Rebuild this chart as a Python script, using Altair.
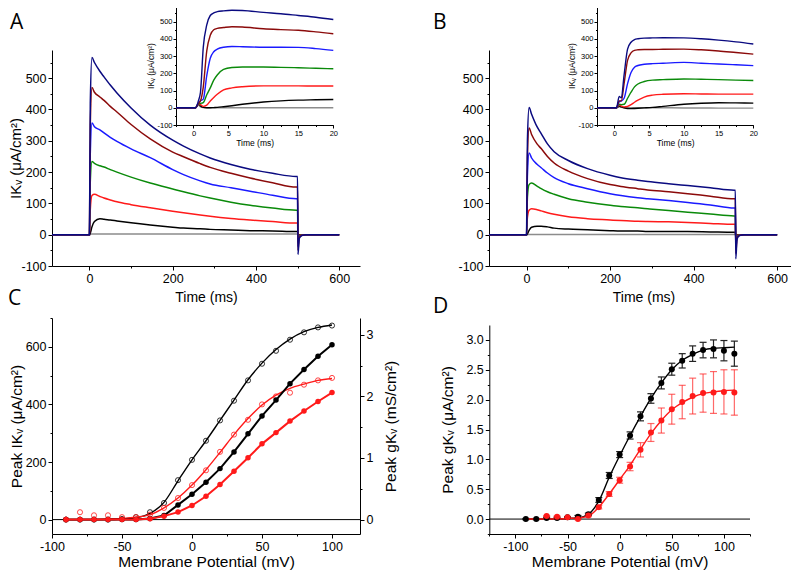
import altair as alt
import pandas as pd

W, H = 783, 562
FONT = "Liberation Sans"
LETTER_FONT = "Open Sans"

# ---------------- trace colours (bottom to top) ----------------
SERIES = ["s0_gray", "s1_black", "s2_red", "s3_green", "s4_blue", "s5_darkred", "s6_navy"]
SERIES_COLORS = ["#8c8c8c", "#000000", "#ff1a1a", "#0a8a0a", "#1a1aff", "#8b0a0a", "#0a0a80"]

# ---------------- Panel A / B main traces (time in ms, current in uA/cm2) ----------------
T_MAIN = [-90, 0, 2, 6, 12, 25, 35, 50, 66, 100, 146, 200, 226, 266, 290, 340, 386, 440, 497, 500, 501, 504, 510, 520, 600]

A_NAVY = [0, 0, 420, 566, 550, 522, 504, 478, 453, 405, 350, 302, 283, 258, 245, 224, 209, 196, 186, 186, -63, -12, -3, 0, 0]
A_DRED = [0, 0, 350, 470, 455, 440, 429, 410, 392, 352, 306, 264, 249, 227, 215, 196, 181, 166, 152, 152, -50, -9, -2, 0, 0]
A_BLUE = [0, 0, 260, 357, 345, 335, 325, 311, 298, 274, 246, 208, 192, 172, 162, 150, 139, 126, 115, 115, -38, -7, -2, 0, 0]
A_GREEN = [0, 0, 170, 234, 228, 220, 216, 208, 200, 184, 165, 146, 137, 124, 117, 104, 94, 85, 78, 78, -25, -5, -1, 0, 0]
A_RED = [0, 0, 80, 125, 129, 122, 117, 111, 105, 96, 86, 75, 70, 63, 59, 52, 47, 42, 37, 37, -13, -3, -1, 0, 0]
A_BLACK = [0, 0, 5, 25, 42, 51, 49, 47, 44, 38, 31, 24, 21, 19, 17, 15, 13, 12, 10, 10, -5, -1, 0, 0, 0]
A_GRAY = [0, 0, 2, 2, 2, 2, 2, 2, 2, 2, 2, 2, 2, 2, 2, 2, 2, 2, 2, 2, 0, 0, 0, 0, 0]

B_NAVY = [0, 0, 300, 406, 385, 345, 323, 290, 265, 237, 211, 190, 182, 174, 170, 163, 157, 150, 142, 142, -77, -14, -3, 0, 0]
B_DRED = [0, 0, 250, 341, 320, 290, 275, 250, 229, 203, 179, 160, 154, 147, 143, 137, 131, 123, 115, 115, -60, -10, -2, 0, 0]
B_BLUE = [0, 0, 190, 261, 245, 225, 214, 197, 182, 163, 147, 131, 125, 118, 115, 109, 103, 95, 85, 85, -45, -8, -2, 0, 0]
B_GREEN = [0, 0, 120, 160, 165, 155, 147, 137, 129, 115, 104, 94, 90, 86, 83, 77, 72, 66, 60, 60, -30, -5, -1, 0, 0]
B_RED = [0, 0, 55, 78, 83, 80, 76, 70, 65, 57, 51, 47, 45, 43, 42, 41, 39, 36, 33, 33, -15, -3, -1, 0, 0]
B_BLACK = [0, 0, 3, 14, 24, 27, 27, 25, 21, 18, 16, 13, 12, 12, 10, 10, 10, 9, 8, 8, -5, -1, 0, 0, 0]
B_GRAY = [0, 0, 1, 1, 1, 1, 1, 1, 1, 1, 1, 1, 1, 1, 1, 1, 1, 1, 1, 1, 0, 0, 0, 0, 0]

# ---------------- insets (first 20 ms) ----------------
T_INS = [-2.5, 0.3, 0.7, 1.0, 1.4, 1.9, 2.4, 2.9, 3.4, 4.3, 5.5, 7, 10, 12.5, 15, 17.5, 20]

IA_NAVY = [0, 0, 40, 90, 350, 480, 535, 550, 557, 562, 565, 564, 553, 545, 535, 525, 512]
IA_DRED = [0, 0, 25, 40, 120, 330, 420, 452, 460, 465, 470, 468, 458, 453, 449, 440, 429]
IA_BLUE = [0, 0, 25, 40, 50, 186, 287, 325, 340, 351, 355, 354, 351, 351, 350, 343, 333]
IA_GREEN = [0, 0, 20, 25, 30, 75, 115, 160, 190, 222, 233, 236, 236, 234, 232, 229, 226]
IA_RED = [0, 0, 20, 18, 8, 15, 39, 60, 78, 103, 115, 122, 127, 127, 127, 126, 126]
IA_BLACK = [0, 0, 25, 10, 2, 0, 0, 1, 2, 6, 12, 20, 33, 40, 44, 46, 48]
IA_GRAY = [0, 0, 15, 5, 1, 0, 0, 0, 0, 0, 0, 0, 0, 0, 0, 0, 0]

IB_NAVY = [0, 0, 66, 57, 190, 340, 380, 395, 400, 404, 405, 406, 405, 400, 392, 382, 370]
IB_DRED = [0, 0, 40, 40, 140, 275, 318, 333, 336, 338, 338, 339, 340, 336, 329, 320, 311]
IB_BLUE = [0, 0, 35, 40, 55, 140, 205, 235, 245, 252, 256, 258, 263, 258, 254, 249, 244]
IB_GREEN = [0, 0, 20, 18, 20, 55, 90, 121, 138, 152, 160, 163, 167, 165, 163, 160, 158]
IB_RED = [0, 0, 15, 10, 5, 8, 18, 32, 44, 62, 73, 78, 81, 80, 79, 79, 79]
IB_BLACK = [0, 0, 10, 5, 0, -4, -5, -4, -3, -1, 2, 8, 20, 26, 29, 28, 27]
IB_GRAY = [0, 0, 5, 2, 0, 0, 0, 0, 0, 0, 0, 0, -1, -1, -2, -2, -2]

# ---------------- Panel C ----------------
V_C = [-90, -80, -70, -60, -50, -40, -30, -20, -10, 0, 10, 20, 30, 40, 50, 60, 70, 80, 90, 100]
C_I_CTRL = [0, 0, 0, 0, 0, 0, 4, 14, 51, 88, 130, 177, 235, 298, 360, 415, 472, 521, 567, 607]
C_I_TRT = [0, 0, 0, 0, 0, 0, 3, 12, 26, 49, 81, 122, 168, 215, 263, 302, 342, 377, 410, 441]
C_G_CTRL = [0, 0, 0, 0, 0.01, 0.04, 0.12, 0.27, 0.64, 0.97, 1.28, 1.61, 1.93, 2.26, 2.53, 2.74, 2.92, 3.04, 3.12, 3.15]
C_G_TRT = [0, 0.12, 0.07, 0.07, 0.04, 0.04, 0.08, 0.19, 0.35, 0.56, 0.80, 1.10, 1.38, 1.62, 1.87, 2.00, 2.06, 2.19, 2.26, 2.30]
C_FIT_CTRL = [0, 0, 0, 0, 0.01, 0.03, 0.10, 0.28, 0.63, 0.97, 1.28, 1.61, 1.94, 2.27, 2.54, 2.76, 2.93, 3.05, 3.12, 3.16]
C_FIT_TRT = [0, 0, 0, 0.01, 0.02, 0.04, 0.08, 0.19, 0.35, 0.56, 0.81, 1.09, 1.38, 1.64, 1.86, 2.02, 2.13, 2.20, 2.26, 2.29]
C_ZERO = [-100, 120]

# ---------------- Panel D ----------------
V_D = [-90, -80, -70, -60, -50, -40, -30, -20, -10, 0, 10, 20, 30, 40, 50, 60, 70, 80, 90, 100, 110]
D_CTRL = [0, 0, 0.02, 0.02, 0.03, 0.04, 0.08, 0.32, 0.73, 1.08, 1.40, 1.72, 2.02, 2.28, 2.51, 2.65, 2.77, 2.83, 2.85, 2.82, 2.77]
D_CTRL_ERR = [0.01, 0.01, 0.01, 0.01, 0.01, 0.02, 0.02, 0.04, 0.05, 0.05, 0.06, 0.075, 0.08, 0.10, 0.10, 0.12, 0.13, 0.13, 0.15, 0.17, 0.21]
V_D_TRT = [-70, -60, -50, -40, -30, -20, -10, 0, 10, 20, 30, 40, 50, 60, 70, 80, 90, 100, 110]
D_TRT = [0.05, 0.04, 0.03, 0.0, 0.06, 0.20, 0.42, 0.65, 0.88, 1.16, 1.45, 1.65, 1.84, 1.96, 2.06, 2.11, 2.12, 2.13, 2.12]
D_TRT_ERR = [0.01, 0.01, 0.01, 0.01, 0.02, 0.03, 0.04, 0.05, 0.07, 0.12, 0.15, 0.21, 0.25, 0.28, 0.30, 0.32, 0.35, 0.37, 0.38]
D_FIT_CTRL = [0, 0, 0, 0, 0.01, 0.02, 0.08, 0.30, 0.70, 1.06, 1.40, 1.72, 2.02, 2.28, 2.50, 2.66, 2.76, 2.83, 2.86, 2.87, 2.88]
D_FIT_TRT = [0, 0, 0, 0, 0.01, 0.02, 0.05, 0.20, 0.42, 0.66, 0.90, 1.17, 1.43, 1.65, 1.83, 1.95, 2.04, 2.10, 2.13, 2.15, 2.16]
D_ZERO = [-125, 125]


def traces(t, arrays):
    rows = []
    for name, arr in zip(SERIES, arrays):
        for ti, vi in zip(t, arr):
            rows.append({"t": ti, "v": vi, "s": name})
    return pd.DataFrame(rows)


def sc(domain, rng):
    return alt.Scale(domain=domain, range=rng, nice=False, zero=False)


def ax(orient, offset, values, major, label, title, tsize, lsize,
       tick=4, minor=2, tpad=4, lpad=2, **extra):
    return alt.Axis(
        orient=orient, offset=offset, values=values, grid=False,
        domainColor="#000", domainWidth=1, tickColor="#000", tickWidth=1,
        tickSize={"condition": {"test": major, "value": tick}, "value": minor},
        labelExpr=f"({major}) ? {label} : ''",
        labelFont=FONT, labelFontSize=lsize, labelColor="#000",
        labelPadding=lpad, labelOverlap=False, labelFlush=False, labelBound=False,
        title=title, titleFont=FONT, titleFontSize=tsize, titleFontWeight="normal",
        titleColor="#000", titlePadding=tpad, **extra)


INT_LABEL = "'' + datum.value"
trace_color = alt.Color("s:N", scale=alt.Scale(domain=SERIES, range=SERIES_COLORS), legend=None)

# lower panels' x-axis line (chart pixels)
LOW_AX = 526

# scales (pixel ranges inside the single canvas)
xA = sc([-90, 650], [44, 352])
yMain = sc([-100, 590], [258, 42])
xB = sc([-90, 650], [481, 790])
xIA = sc([-2.5, 20], [168, 325.3])
xIB = sc([-2.5, 20], [589, 745.3])
yIns = sc([-100, 590], [117, -2])
xC = sc([-100, 120], [44, 352])
yC = sc([-50, 700], [LOW_AX, 310])
yC2 = sc([-0.2338, 3.2726], [LOW_AX, 310])
xD = sc([-125, 125], [481.3, 742])
yD = sc([-0.25, 3.25], [LOW_AX, 317])

MAIN_X_VALUES = list(range(0, 601, 100))
MAIN_Y_VALUES = list(range(-100, 551, 50))
INS_X_VALUES = [-2.5 + 2.5 * i for i in range(10)]
TITLE_I = "IKᵥ (μA/cm²)"

layers = []

# ---- Panel A main ----
layers.append(alt.Chart(traces(T_MAIN, [A_GRAY, A_BLACK, A_RED, A_GREEN, A_BLUE, A_DRED, A_NAVY]))
              .mark_line(strokeWidth=1.5, interpolate="monotone")
              .encode(x=alt.X("t:Q", scale=xA, axis=ax("bottom", 258 - H, MAIN_X_VALUES, "datum.value % 200 === 0", INT_LABEL, "Time (ms)", 14, 12.5, tpad=6)),
                      y=alt.Y("v:Q", scale=yMain, axis=ax("left", -44, MAIN_Y_VALUES, "datum.value % 100 === 0", INT_LABEL, TITLE_I, 15, 12.5,
                                                          titleX=-29, titleBaseline="bottom")),
                      color=trace_color))
# ---- Panel A inset ----
layers.append(alt.Chart(traces(T_INS, [IA_GRAY, IA_BLACK, IA_RED, IA_GREEN, IA_BLUE, IA_DRED, IA_NAVY]))
              .mark_line(strokeWidth=1.4, interpolate="monotone")
              .encode(x=alt.X("t:Q", scale=xIA, axis=ax("bottom", 117 - H, INS_X_VALUES, "datum.value % 5 === 0", INT_LABEL, "Time (ms)", 8.5, 7.5, tick=3, minor=1.5, tpad=2, lpad=1)),
                      y=alt.Y("v:Q", scale=yIns, axis=ax("left", -168, MAIN_Y_VALUES, "datum.value % 100 === 0", INT_LABEL, TITLE_I, 8.5, 7.5, tick=3, minor=1.5, tpad=1, lpad=1)),
                      color=trace_color))
# ---- Panel B main ----
layers.append(alt.Chart(traces(T_MAIN, [B_GRAY, B_BLACK, B_RED, B_GREEN, B_BLUE, B_DRED, B_NAVY]))
              .mark_line(strokeWidth=1.5, interpolate="monotone")
              .encode(x=alt.X("t:Q", scale=xB, axis=ax("bottom", 258 - H, MAIN_X_VALUES, "datum.value % 200 === 0", INT_LABEL, "Time (ms)", 14, 12.5, tpad=6)),
                      y=alt.Y("v:Q", scale=yMain, axis=ax("left", -481, MAIN_Y_VALUES, "datum.value % 100 === 0", INT_LABEL, "", 15, 12.5, tpad=1)),
                      color=trace_color))
# ---- Panel B inset ----
layers.append(alt.Chart(traces(T_INS, [IB_GRAY, IB_BLACK, IB_RED, IB_GREEN, IB_BLUE, IB_DRED, IB_NAVY]))
              .mark_line(strokeWidth=1.4, interpolate="monotone")
              .encode(x=alt.X("t:Q", scale=xIB, axis=ax("bottom", 117 - H, INS_X_VALUES, "datum.value % 5 === 0", INT_LABEL, "Time (ms)", 8.5, 7.5, tick=3, minor=1.5, tpad=2, lpad=1)),
                      y=alt.Y("v:Q", scale=yIns, axis=ax("left", -589, MAIN_Y_VALUES, "datum.value % 100 === 0", INT_LABEL, TITLE_I, 8.5, 7.5, tick=3, minor=1.5, tpad=1, lpad=1)),
                      color=trace_color))

# ---- Panel C ----
dfCz = pd.DataFrame({"a": [C_ZERO[0]], "b": [C_ZERO[1]], "y": [0]})
layers.append(alt.Chart(dfCz).mark_rule(color="#000", strokeWidth=1).encode(
    x=alt.X("a:Q", scale=xC, axis=None), x2="b:Q", y=alt.Y("y:Q", scale=yC, axis=None)))

dfC = pd.DataFrame({"V": V_C, "Ic": C_I_CTRL, "It": C_I_TRT, "Gc": C_G_CTRL, "Gt": C_G_TRT,
                    "Fc": C_FIT_CTRL, "Ft": C_FIT_TRT})
# conductance (open circles, right axis) with fits
for fit, pts, col, first in [("Fc", "Gc", "#000000", True), ("Ft", "Gt", "#ff1a1a", False)]:
    right_axis = ax("right", 352 - W, [0, 0.5, 1, 1.5, 2, 2.5, 3], "datum.value % 1 === 0", INT_LABEL,
                    "Peak gKᵥ (mS/cm²)", 15.5, 12.5, titleAngle=270, titleBaseline="top", titleX=23) if first else None
    layers.append(alt.Chart(dfC).mark_line(color=col, strokeWidth=1.4, interpolate="monotone").encode(
        x=alt.X("V:Q", scale=xC, axis=None),
        y=alt.Y(f"{fit}:Q", scale=yC2, axis=right_axis)))
    layers.append(alt.Chart(dfC).mark_point(shape="circle", filled=False, color=col, size=26, strokeWidth=0.8, opacity=1).encode(
        x=alt.X("V:Q", scale=xC, axis=None),
        y=alt.Y(f"{pts}:Q", scale=yC2, axis=None)))
# current (filled circles, left axis)
for fld, col, first in [("Ic", "#000000", True), ("It", "#ff1a1a", False)]:
    xax = ax("bottom", LOW_AX - H, list(range(-100, 101, 25)), "datum.value % 50 === 0", INT_LABEL,
             "Membrane Potential (mV)", 15.5, 12.5, titleY=32, titleBaseline="alphabetic") if first else None
    yax = ax("left", -44, list(range(0, 701, 100)), "datum.value % 200 === 0", INT_LABEL,
             "Peak IKᵥ (μA/cm²)", 15.5, 12.5, titleX=-28, titleBaseline="bottom") if first else None
    layers.append(alt.Chart(dfC).mark_line(color=col, strokeWidth=2).encode(
        x=alt.X("V:Q", scale=xC, axis=xax),
        y=alt.Y(f"{fld}:Q", scale=yC, axis=yax)))
    layers.append(alt.Chart(dfC).mark_circle(color=col, size=30, opacity=1).encode(
        x=alt.X("V:Q", scale=xC, axis=None),
        y=alt.Y(f"{fld}:Q", scale=yC, axis=None)))

# ---- Panel D ----
dfDz = pd.DataFrame({"a": [D_ZERO[0]], "b": [D_ZERO[1]], "y": [0]})
layers.append(alt.Chart(dfDz).mark_rule(color="#000", strokeWidth=1).encode(
    x=alt.X("a:Q", scale=xD, axis=None), x2="b:Q", y=alt.Y("y:Q", scale=yD, axis=None)))

dfDc = pd.DataFrame({"V": V_D, "g": D_CTRL, "e": D_CTRL_ERR, "f": D_FIT_CTRL})
dfDt = pd.DataFrame({"V": V_D_TRT, "g": D_TRT, "e": D_TRT_ERR})
dfDft = pd.DataFrame({"V": V_D, "f": D_FIT_TRT})
for d in (dfDc, dfDt):
    d["lo"] = d["g"] - d["e"]
    d["hi"] = d["g"] + d["e"]

for d, col, op in [(dfDc, "#222222", 1.0), (dfDt, "#ff2a2a", 0.7)]:
    layers.append(alt.Chart(d).mark_rule(color=col, strokeWidth=1.2, opacity=op).encode(
        x=alt.X("V:Q", scale=xD, axis=None), y=alt.Y("lo:Q", scale=yD, axis=None), y2="hi:Q"))
    for end in ("lo", "hi"):
        layers.append(alt.Chart(d).mark_rule(color=col, strokeWidth=1.2, opacity=op, xOffset=-3.5, x2Offset=3.5).encode(
            x=alt.X("V:Q", scale=xD, axis=None), x2="V:Q", y=alt.Y(f"{end}:Q", scale=yD, axis=None)))

layers.append(alt.Chart(dfDc).mark_line(color="#000000", strokeWidth=1.4, interpolate="monotone").encode(
    x=alt.X("V:Q", scale=xD, axis=ax("bottom", LOW_AX - H, list(range(-125, 126, 25)), "datum.value % 50 === 0", INT_LABEL,
                                     "Membrane Potential (mV)", 15.5, 12.5, titleY=32, titleBaseline="alphabetic")),
    y=alt.Y("f:Q", scale=yD, axis=ax("left", -481.3, [-0.25 + 0.25 * i for i in range(14)], "datum.value % 0.5 === 0",
                                     "format(datum.value, '.1f')", "Peak gKᵥ (μA/cm²)", 15.5, 12.5,
                                     titleX=-34, titleBaseline="bottom"))))
layers.append(alt.Chart(dfDft).mark_line(color="#ff1a1a", strokeWidth=1.4, interpolate="monotone").encode(
    x=alt.X("V:Q", scale=xD, axis=None), y=alt.Y("f:Q", scale=yD, axis=None)))
layers.append(alt.Chart(dfDc).mark_circle(color="#000000", size=36, opacity=1).encode(
    x=alt.X("V:Q", scale=xD, axis=None), y=alt.Y("g:Q", scale=yD, axis=None)))
layers.append(alt.Chart(dfDt).mark_circle(color="#ff1a1a", size=36, opacity=1).encode(
    x=alt.X("V:Q", scale=xD, axis=None), y=alt.Y("g:Q", scale=yD, axis=None)))

# ---- panel letters ----
for letter, lx, ly, bl in [("A", 2, 4, "top"), ("B", 425, 4, "top"), ("C", 0, 297, "alphabetic"), ("D", 425, 305, "alphabetic")]:
    layers.append(alt.Chart(pd.DataFrame({"k": [letter]})).mark_text(
        font=LETTER_FONT, fontSize=21, align="left", baseline=bl, color="#000").encode(
        x=alt.value(lx), y=alt.value(ly), text="k:N"))

chart = (alt.layer(*layers)
         .resolve_scale(x="independent", y="independent", color="independent")
         .properties(width=W, height=H, padding=0, autosize=alt.AutoSizeParams(type="none"), background="white")
         .configure_view(stroke=None))

chart.save("out.html", embed_options={"renderer": "svg", "actions": False})
